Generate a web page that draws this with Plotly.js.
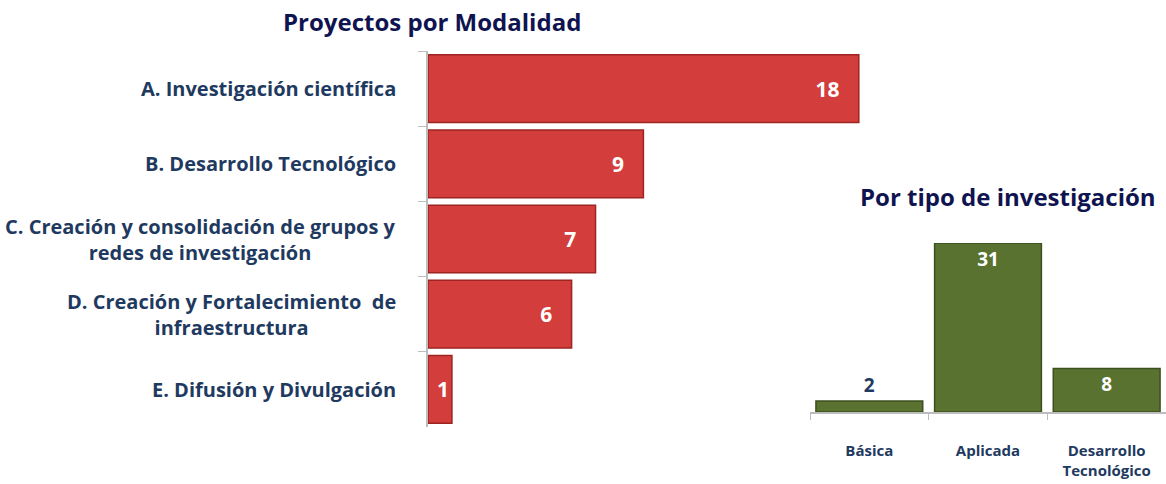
<!DOCTYPE html>
<html>
<head>
<meta charset="utf-8">
<script src="https://cdn.plot.ly/plotly-3.0.1.min.js"></script>
<style>
html,body{margin:0;padding:0;background:#fff;}
#chart{width:1166px;height:484px;}
</style>
</head>
<body>
<div id="chart"></div>
<script>
// ---- data ----
const modalidades = [
  "A. Investigación científica",
  "B. Desarrollo Tecnológico",
  "C. Creación y consolidación de grupos y<br>redes de investigación",
  "D. Creación y Fortalecimiento  de<br>infraestructura",
  "E. Difusión y Divulgación"
];
const proyectos = [18, 9, 7, 6, 1];

const tipos = ["Básica", "Aplicada", "Desarrollo<br>Tecnológico"];
const cantidades = [2, 31, 8];

const tituloIzq = "Proyectos por Modalidad";
const tituloDer = "Por tipo de investigación";

// ---- styles ----
const W = 1166, H = 484;
const FONT = "'Open Sans', Lato, sans-serif";
const NAVY = "#1F3A60";
const TITLE = "#0F1450";
const px = v => v / W;
const py = v => 1 - v / H;
const PAD = "\u00a0\u00a0\u00a0";

const traces = [
  {
    type: "bar", orientation: "h",
    y: modalidades, x: proyectos,
    xaxis: "x", yaxis: "y",
    marker: {color: "#D33D3B", line: {color: "#9E2422", width: 1.5}},
    text: proyectos.map(v => v > 2 ? v + PAD : String(v)),
    textposition: "inside", insidetextanchor: "end",
    textfont: {family: FONT, size: 21, color: "#ffffff", weight: 700},
    hoverinfo: "x+y", cliponaxis: false
  },
  {
    type: "bar",
    x: tipos, y: cantidades,
    xaxis: "x2", yaxis: "y2",
    marker: {color: "#5A7230", line: {color: "#3C4F1E", width: 1.5}},
    text: cantidades.map(String),
    textposition: cantidades.map(v => v < 4 ? "outside" : "inside"),
    insidetextanchor: "end",
    textfont: {family: FONT, size: 19, weight: 700,
      color: cantidades.map(v => v < 4 ? NAVY : "#ffffff")},
    cliponaxis: false
  }
];

const annotations = modalidades.map(m => ({
  xref: "paper", yref: "y", x: px(398), y: m,
  xanchor: "right", yanchor: "middle", align: "center",
  text: m, showarrow: false,
  font: {family: FONT, size: 20, color: NAVY, weight: 700}
}));
annotations.push(
  {xref: "paper", yref: "paper", x: px(432), y: py(22), xanchor: "center", yanchor: "middle",
   text: tituloIzq, showarrow: false, font: {family: FONT, size: 24, color: TITLE, weight: 700}},
  {xref: "paper", yref: "paper", x: px(1008), y: py(196), xanchor: "center", yanchor: "middle",
   text: tituloDer, showarrow: false, font: {family: FONT, size: 24, color: TITLE, weight: 700}}
);

const layout = {
  width: W, height: H,
  margin: {l: 0, r: 0, t: 0, b: 0},
  paper_bgcolor: "#ffffff", plot_bgcolor: "rgba(0,0,0,0)",
  showlegend: false,
  bargap: 0.1,
  xaxis: {domain: [px(428), px(860)], range: [0, 18.05], visible: false, fixedrange: true},
  yaxis: {domain: [py(427), py(51)], type: "category", autorange: "reversed",
          showticklabels: false, showline: true, linecolor: "#BDBDBD", linewidth: 2,
          ticks: "outside", tickson: "boundaries", ticklen: 8, tickcolor: "#BDBDBD",
          showgrid: false, zeroline: false, fixedrange: true},
  xaxis2: {domain: [px(810), px(1166)], anchor: "y2", type: "category",
           showline: true, linecolor: "#BDBDBD", linewidth: 2,
           ticks: "outside", tickson: "boundaries", ticklen: 6, tickcolor: "#BDBDBD",
           tickfont: {family: FONT, size: 15, color: NAVY, weight: 700},
           ticklabelstandoff: 24, showgrid: false, fixedrange: true},
  yaxis2: {domain: [py(412), py(243)], anchor: "x2", range: [0, 31], visible: false, fixedrange: true},
  annotations: annotations
};

Plotly.newPlot("chart", traces, layout, {displayModeBar: false, staticPlot: true});
</script>
</body>
</html>
